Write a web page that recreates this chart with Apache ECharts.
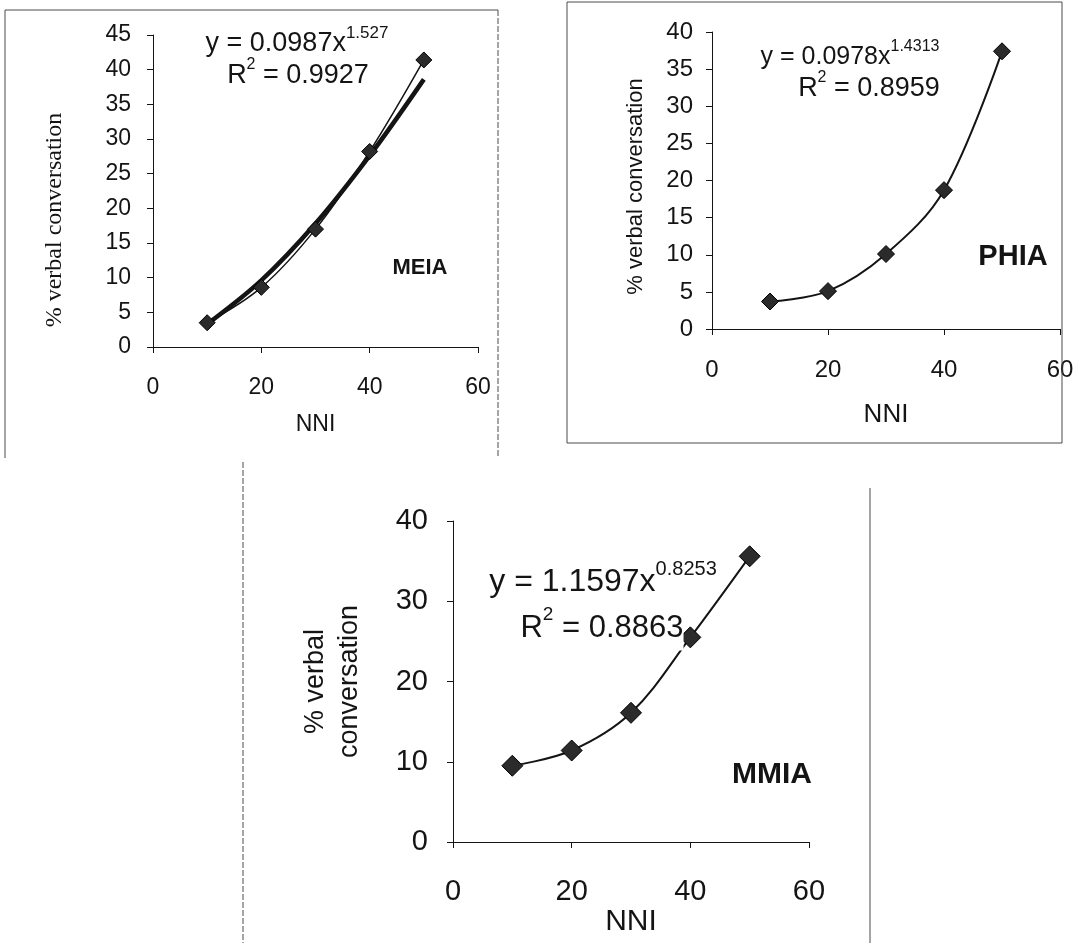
<!DOCTYPE html>
<html><head><meta charset="utf-8">
<script src="https://cdn.jsdelivr.net/npm/echarts@6/dist/echarts.min.js"></script>
<style>html,body{margin:0;padding:0;background:#fff}#c{width:1079px;height:943px}</style>
</head><body><div id="c"></div>
<script>
// ---- data ----
const nni = [10, 20, 30, 40, 50];
const meiaValues = [3.5, 8.6, 17.0, 28.2, 41.4];
const meiaTrend = [3.3, 9.6, 17.8, 27.6, 38.6];
const phiaValues = [3.7, 5.1, 10.1, 18.7, 37.4];
const mmiaValues = [9.5, 11.4, 16.1, 25.5, 35.6];
const xRange = [0, 60, 20];
const meiaYRange = [0, 45, 5];
const phiaYRange = [0, 40, 5];
const mmiaYRange = [0, 40, 10];
const panelNames = ['MEIA', 'PHIA', 'MMIA'];
const equations = [
  ['0.0987', '1.527', '0.9927'],
  ['0.0978', '1.4313', '0.8959'],
  ['1.1597', '0.8253', '0.8863']
];

const SANS = "'Liberation Sans', Arial, sans-serif";
const SERIF = "'Liberation Serif', 'Times New Roman', serif";
const INK = '#141414';

function pairs(xs, ys) { return xs.map((x, i) => [x, ys[i]]); }

function xAxis(idx, fs, margin, nameFs, nameGap) {
  return {
    type: 'value', gridIndex: idx, min: xRange[0], max: xRange[1], interval: xRange[2],
    axisLine: { show: true, onZero: false, lineStyle: { color: INK, width: 1 } },
    axisTick: { show: true, length: 6, lineStyle: { color: INK } },
    splitLine: { show: false },
    axisLabel: { fontSize: fs, margin: margin, color: INK, fontFamily: SANS },
    name: 'NNI', nameLocation: 'middle', nameGap: nameGap,
    nameTextStyle: { fontSize: nameFs, color: INK, fontFamily: SANS }
  };
}
function yAxis(idx, r, fs, margin, name, nameFs, nameGap, fam, lh, shift) {
  return {
    type: 'value', gridIndex: idx, min: r[0], max: r[1], interval: r[2],
    axisLine: { show: true, lineStyle: { color: INK, width: 1 } },
    axisTick: { show: true, length: 6, lineStyle: { color: INK } },
    splitLine: { show: false },
    axisLabel: { fontSize: fs, margin: margin, color: INK, fontFamily: SANS },
    name: name, nameLocation: 'middle', nameGap: nameGap,
    nameTextStyle: { fontSize: nameFs, color: INK, fontFamily: fam, lineHeight: lh,
      padding: [0, shift || 0, 0, 0] }
  };
}
function pointSeries(idx, ys, size, lw) {
  return {
    type: 'line', xAxisIndex: idx, yAxisIndex: idx, data: pairs(nni, ys),
    smooth: 0.35, symbol: 'diamond', symbolSize: size, z: 5,
    lineStyle: { color: INK, width: lw },
    itemStyle: { color: '#2b2b2b', borderColor: '#000', borderWidth: 1 },
    silent: true, animation: false
  };
}
function eqText(x, y, coef, pw, fs, sfs) {
  return {
    type: 'text', x: x, y: y, z: 10,
    style: {
      text: '{m|y = ' + coef + 'x}{s|' + pw + '}',
      align: 'center', verticalAlign: 'middle', fill: INK,
      rich: {
        m: { fontSize: fs, fontFamily: SANS, fill: INK, lineHeight: Math.round(fs * 1.45) },
        s: { fontSize: sfs, fontFamily: SANS, fill: INK, verticalAlign: 'top', lineHeight: sfs + 2 }
      }
    }
  };
}
function r2Text(x, y, val, fs, sfs, bg) {
  return {
    type: 'text', x: x, y: y, z: 10,
    style: {
      text: '{m|R}{s|2}{m| = ' + val + '}',
      align: 'center', verticalAlign: 'middle', fill: INK,
      backgroundColor: bg || 'transparent',
      rich: {
        m: { fontSize: fs, fontFamily: SANS, fill: INK, lineHeight: Math.round(fs * 1.45) },
        s: { fontSize: sfs, fontFamily: SANS, fill: INK, verticalAlign: 'top', lineHeight: sfs + 2 }
      }
    }
  };
}
function label(x, y, t, fs) {
  return { type: 'text', x: x, y: y, z: 10,
    style: { text: t, fontSize: fs, fontWeight: 'bold', fontFamily: SANS, fill: INK, align: 'center', verticalAlign: 'middle' } };
}
function seg(x1, y1, x2, y2, dash) {
  return { type: 'line', shape: { x1: x1, y1: y1, x2: x2, y2: y2 }, z: 1,
    style: { stroke: '#4a4a4a', lineWidth: 1, lineDash: dash ? [6, 2] : null } };
}

const option = {
  backgroundColor: '#fff',
  animation: false,
  grid: [
    { left: 153, top: 35, width: 325, height: 312 },
    { left: 712, top: 32, width: 348, height: 297 },
    { left: 453, top: 521, width: 356, height: 321 }
  ],
  xAxis: [
    xAxis(0, 23, 29, 23, 66),
    xAxis(1, 24, 29, 26, 73),
    xAxis(2, 29, 35, 30, 54)
  ],
  yAxis: [
    yAxis(0, meiaYRange, 23, 22, '% verbal conversation', 24, 86, SERIF, 24, 58),
    yAxis(1, phiaYRange, 24, 19, '% verbal conversation', 22, 64, SANS, 24, 12),
    yAxis(2, mmiaYRange, 29, 25, '% verbal\nconversation', 27, 86, SANS, 34, 0)
  ],
  series: [
    {
      type: 'line', xAxisIndex: 0, yAxisIndex: 0, data: pairs(nni, meiaTrend),
      smooth: 0.35, symbol: 'none', z: 4,
      lineStyle: { color: INK, width: 4.5 }, silent: true, animation: false
    },
    pointSeries(0, meiaValues, 16, 1.5),
    pointSeries(1, phiaValues, 17, 2),
    pointSeries(2, mmiaValues, 21, 2)
  ],
  graphic: [
    // panel frames
    seg(5, 10, 498, 10), seg(5, 10, 5, 458), seg(498, 10, 498, 458, true),
    seg(567, 2, 1062, 2), seg(567, 2, 567, 443), seg(1062, 2, 1062, 443), seg(567, 443, 1062, 443),
    seg(243, 462, 243, 943, true), seg(870, 488, 870, 943),
    // equations
    eqText(297, 44, equations[0][0], equations[0][1], 27, 17),
    r2Text(298, 76, equations[0][2], 27, 16),
    eqText(850, 57, equations[1][0], equations[1][1], 25, 16),
    r2Text(869, 89, equations[1][2], 27, 16),
    eqText(603, 582, equations[2][0], equations[2][1], 32, 20),
    r2Text(602, 628, equations[2][2], 31, 19, '#fff'),
    // panel names
    label(420, 268, panelNames[0], 22),
    label(1013, 257, panelNames[1], 29),
    label(772, 775, panelNames[2], 30)
  ]
};

const chart = echarts.init(document.getElementById('c'), null, { renderer: 'canvas' });
chart.setOption(option);
</script>
</body></html>
